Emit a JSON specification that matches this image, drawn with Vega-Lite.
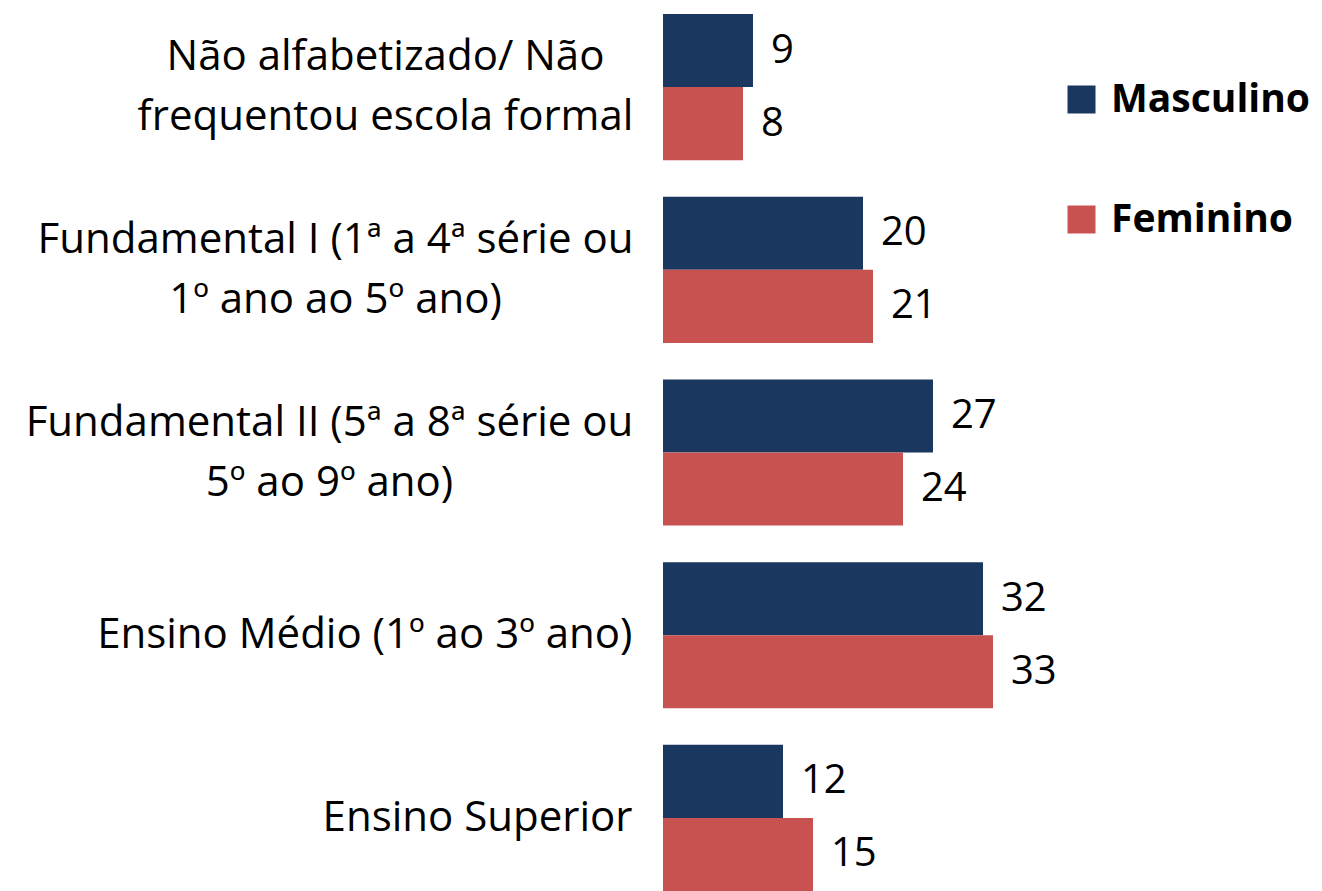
{
  "$schema": "https://vega.github.io/schema/vega-lite/v6.json",
  "autosize": {"type": "none"},
  "padding": {"left": 663, "top": 14, "right": 259, "bottom": 0},
  "width": 400,
  "height": 877,
  "background": "white",
  "data": {
    "values": [
      {"cat": "Não alfabetizado/ Não\nfrequentou escola formal", "sexo": "Masculino", "valor": 9},
      {"cat": "Não alfabetizado/ Não\nfrequentou escola formal", "sexo": "Feminino", "valor": 8},
      {"cat": "Fundamental I (1ª a 4ª série ou\n1º ano ao 5º ano)", "sexo": "Masculino", "valor": 20},
      {"cat": "Fundamental I (1ª a 4ª série ou\n1º ano ao 5º ano)", "sexo": "Feminino", "valor": 21},
      {"cat": "Fundamental II (5ª a 8ª série ou\n5º ao 9º ano)", "sexo": "Masculino", "valor": 27},
      {"cat": "Fundamental II (5ª a 8ª série ou\n5º ao 9º ano)", "sexo": "Feminino", "valor": 24},
      {"cat": "Ensino Médio (1º ao 3º ano)", "sexo": "Masculino", "valor": 32},
      {"cat": "Ensino Médio (1º ao 3º ano)", "sexo": "Feminino", "valor": 33},
      {"cat": "Ensino Superior", "sexo": "Masculino", "valor": 12},
      {"cat": "Ensino Superior", "sexo": "Feminino", "valor": 15}
    ]
  },
  "encoding": {
    "y": {
      "field": "cat", "type": "nominal", "sort": null,
      "scale": {"paddingInner": 0.2, "paddingOuter": 0},
      "axis": {
        "title": null, "domain": false, "ticks": false,
        "labelExpr": "split(datum.label, '\\n')",
        "labelFont": "Open Sans",
        "labelFontSize": 42, "labelLineHeight": 60, "labelColor": "#000000",
        "labelLimit": 0, "labelBaseline": "middle",
        "labelAlign": {"condition": {"test": "indexof(datum.value, '\\n') >= 0", "value": "center"}, "value": "right"},
        "labelPadding": {"condition": [
          {"test": "indexof(datum.value, 'Não alfa') >= 0", "value": 278},
          {"test": "indexof(datum.value, 'Fundamental I (') >= 0", "value": 328},
          {"test": "indexof(datum.value, 'Fundamental II') >= 0", "value": 334}
        ], "value": 31},
        "labelOffset": {"condition": {"test": "indexof(datum.value, '\\n') >= 0", "value": -30}, "value": 0}
      }
    },
    "yOffset": {
      "field": "sexo", "type": "nominal", "sort": ["Masculino", "Feminino"],
      "scale": {"paddingInner": 0, "paddingOuter": 0}
    },
    "x": {
      "field": "valor", "type": "quantitative",
      "scale": {"domain": [0, 40], "nice": false},
      "axis": null
    }
  },
  "layer": [
    {
      "mark": {"type": "bar"},
      "encoding": {
        "color": {
          "field": "sexo", "type": "nominal", "sort": ["Masculino", "Feminino"],
          "scale": {"domain": ["Masculino", "Feminino"], "range": ["#1a3760", "#c85250"]},
          "legend": {
            "title": null, "orient": "none", "legendX": 399, "legendY": 66,
            "symbolType": "square", "symbolSize": 784, "symbolStrokeWidth": 0,
            "labelFont": "Open Sans",
            "labelFontSize": 39, "labelFontWeight": "bold", "labelColor": "#000000",
            "rowPadding": 80, "labelOffset": 10, "labelLimit": 0
          }
        }
      }
    },
    {
      "mark": {"type": "text", "align": "left", "baseline": "middle", "dx": 18, "fontSize": 40, "font": "Open Sans", "color": "#000000"},
      "encoding": {
        "text": {"field": "valor", "type": "quantitative"}
      }
    }
  ],
  "config": {"view": {"stroke": null}}
}
